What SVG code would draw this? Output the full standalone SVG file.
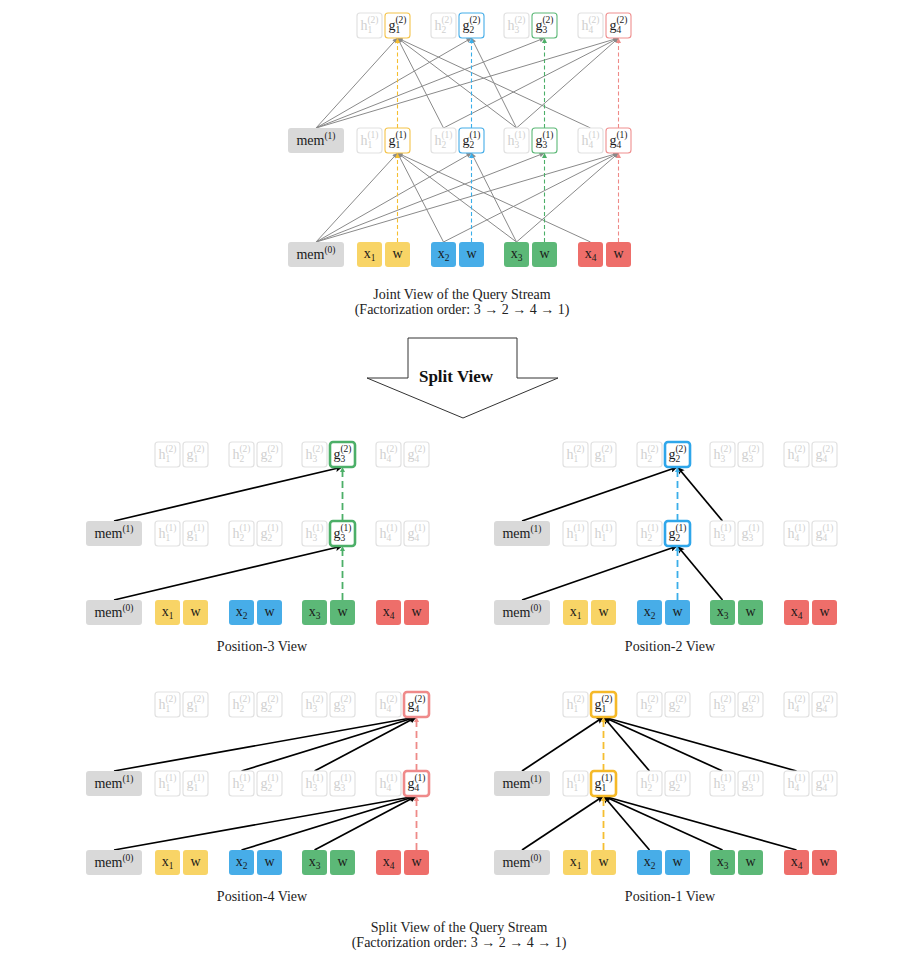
<svg xmlns="http://www.w3.org/2000/svg" width="900" height="960" viewBox="0 0 900 960">
<defs>
<style>
.t{font-family:"Liberation Serif","DejaVu Serif",serif;font-size:14px;text-anchor:middle;fill:#1a1a1a}
.s{font-size:9.5px}
.cap{font-family:"Liberation Serif","DejaVu Serif",serif;font-size:14px;text-anchor:middle;fill:#222}
.f{fill:#fff;stroke:#e1e1e1;stroke-width:1.2}
.ft{fill:#d0d0d0}
rect{rx:3px;ry:3px}
.m{fill:#d9d9d9}
.cy{fill:#f8d466}.cb{fill:#47ade8}.cg{fill:#5cb877}.cr{fill:#ee6e6a}
.hy{fill:#fff;stroke:#f4c34a;stroke-width:1.1}
.hb{fill:#fff;stroke:#45ade8;stroke-width:1.1}
.hg{fill:#fff;stroke:#5cb877;stroke-width:1.1}
.hr{fill:#fff;stroke:#ef8f8f;stroke-width:1.1}
.Hy{fill:#fff;stroke:#f5b928;stroke-width:2.6}
.Hb{fill:#fff;stroke:#2ea6ea;stroke-width:2.6}
.Hg{fill:#fff;stroke:#4caf68;stroke-width:2.6}
.Hr{fill:#fff;stroke:#ef8a8a;stroke-width:2.6}
.e{fill:none;stroke:#8a8a8a;stroke-width:1;marker-end:url(#ag)}
.k{fill:none;stroke:#000;stroke-width:1.7;marker-end:url(#ak)}
.dy,.db,.dg,.dr{fill:none;stroke-width:1.1;stroke-dasharray:4 2.5}
.dy{stroke:#f5be30;marker-end:url(#my)}
.db{stroke:#3aaee9;marker-end:url(#mb)}
.dg{stroke:#4caf68;marker-end:url(#mg)}
.dr{stroke:#ee8a88;marker-end:url(#mr)}
.pd{stroke-width:1.8;stroke-dasharray:7 4}
</style>
<marker id="ag" viewBox="0 0 10 10" refX="10" refY="5" markerWidth="7" markerHeight="5" markerUnits="userSpaceOnUse" orient="auto"><path d="M0,0L10,5L0,10z" fill="#8a8a8a"/></marker>
<marker id="ak" viewBox="0 0 10 10" refX="10" refY="5" markerWidth="9" markerHeight="7" markerUnits="userSpaceOnUse" orient="auto"><path d="M0,0L10,5L0,10L2,5z" fill="#000"/></marker>
<marker id="my" viewBox="0 0 10 10" refX="10" refY="5" markerWidth="7" markerHeight="5" markerUnits="userSpaceOnUse" orient="auto"><path d="M0,0L10,5L0,10z" fill="#f5be30"/></marker>
<marker id="mb" viewBox="0 0 10 10" refX="10" refY="5" markerWidth="7" markerHeight="5" markerUnits="userSpaceOnUse" orient="auto"><path d="M0,0L10,5L0,10z" fill="#3aaee9"/></marker>
<marker id="mg" viewBox="0 0 10 10" refX="10" refY="5" markerWidth="7" markerHeight="5" markerUnits="userSpaceOnUse" orient="auto"><path d="M0,0L10,5L0,10z" fill="#4caf68"/></marker>
<marker id="mr" viewBox="0 0 10 10" refX="10" refY="5" markerWidth="7" markerHeight="5" markerUnits="userSpaceOnUse" orient="auto"><path d="M0,0L10,5L0,10z" fill="#ee8a88"/></marker>
</defs>
<rect x="0" y="0" width="900" height="960" fill="#fff" style="rx:0"/>

<!-- ===== JOINT VIEW ===== -->
<g id="joint-connectors">
<line class="e" x1="316" y1="242" x2="397.5" y2="153"/>
<line class="e" x1="316" y1="242" x2="471.5" y2="153"/>
<line class="e" x1="316" y1="242" x2="544.5" y2="153"/>
<line class="e" x1="316" y1="242" x2="618.5" y2="153"/>
<line class="e" x1="443.5" y1="242" x2="397.5" y2="153"/>
<line class="e" x1="443.5" y1="242" x2="618.5" y2="153"/>
<line class="e" x1="516.5" y1="242" x2="397.5" y2="153"/>
<line class="e" x1="516.5" y1="242" x2="471.5" y2="153"/>
<line class="e" x1="516.5" y1="242" x2="618.5" y2="153"/>
<line class="e" x1="590.5" y1="242" x2="397.5" y2="153"/>
<line class="e" x1="316" y1="128" x2="397.5" y2="38"/>
<line class="e" x1="316" y1="128" x2="471.5" y2="38"/>
<line class="e" x1="316" y1="128" x2="544.5" y2="38"/>
<line class="e" x1="316" y1="128" x2="618.5" y2="38"/>
<line class="e" x1="443.5" y1="128" x2="397.5" y2="38"/>
<line class="e" x1="443.5" y1="128" x2="618.5" y2="38"/>
<line class="e" x1="516.5" y1="128" x2="397.5" y2="38"/>
<line class="e" x1="516.5" y1="128" x2="471.5" y2="38"/>
<line class="e" x1="516.5" y1="128" x2="618.5" y2="38"/>
<line class="e" x1="590.5" y1="128" x2="397.5" y2="38"/>
<line class="dy" x1="397.5" y1="242" x2="397.5" y2="153"/>
<line class="dy" x1="397.5" y1="128" x2="397.5" y2="38"/>
<line class="db" x1="471.5" y1="242" x2="471.5" y2="153"/>
<line class="db" x1="471.5" y1="128" x2="471.5" y2="38"/>
<line class="dg" x1="544.5" y1="242" x2="544.5" y2="153"/>
<line class="dg" x1="544.5" y1="128" x2="544.5" y2="38"/>
<line class="dr" x1="618.5" y1="242" x2="618.5" y2="153"/>
<line class="dr" x1="618.5" y1="128" x2="618.5" y2="38"/>
</g>
<g id="j-h1-2"><rect class="f" x="357" y="13" width="25" height="25"/><text class="t ft" x="369.5" y="29.5">h<tspan class="s" dy="3">1</tspan><tspan class="s" dx="-4.8" dy="-10">(2)</tspan></text></g>
<g id="j-g1-2"><rect class="hy" x="385" y="13" width="25" height="25"/><text class="t" x="397.5" y="29.5">g<tspan class="s" dy="3">1</tspan><tspan class="s" dx="-4.8" dy="-10">(2)</tspan></text></g>
<g id="j-h2-2"><rect class="f" x="431" y="13" width="25" height="25"/><text class="t ft" x="443.5" y="29.5">h<tspan class="s" dy="3">2</tspan><tspan class="s" dx="-4.8" dy="-10">(2)</tspan></text></g>
<g id="j-g2-2"><rect class="hb" x="459" y="13" width="25" height="25"/><text class="t" x="471.5" y="29.5">g<tspan class="s" dy="3">2</tspan><tspan class="s" dx="-4.8" dy="-10">(2)</tspan></text></g>
<g id="j-h3-2"><rect class="f" x="504" y="13" width="25" height="25"/><text class="t ft" x="516.5" y="29.5">h<tspan class="s" dy="3">3</tspan><tspan class="s" dx="-4.8" dy="-10">(2)</tspan></text></g>
<g id="j-g3-2"><rect class="hg" x="532" y="13" width="25" height="25"/><text class="t" x="544.5" y="29.5">g<tspan class="s" dy="3">3</tspan><tspan class="s" dx="-4.8" dy="-10">(2)</tspan></text></g>
<g id="j-h4-2"><rect class="f" x="578" y="13" width="25" height="25"/><text class="t ft" x="590.5" y="29.5">h<tspan class="s" dy="3">4</tspan><tspan class="s" dx="-4.8" dy="-10">(2)</tspan></text></g>
<g id="j-g4-2"><rect class="hr" x="606" y="13" width="25" height="25"/><text class="t" x="618.5" y="29.5">g<tspan class="s" dy="3">4</tspan><tspan class="s" dx="-4.8" dy="-10">(2)</tspan></text></g>

<g id="j-mem1"><rect class="m" x="288" y="128" width="56" height="25"/><text class="t" x="316" y="145">mem<tspan class="s" dy="-6">(1)</tspan></text></g>
<g id="j-h1-1"><rect class="f" x="357" y="128" width="25" height="25"/><text class="t ft" x="369.5" y="144.5">h<tspan class="s" dy="3">1</tspan><tspan class="s" dx="-4.8" dy="-10">(1)</tspan></text></g>
<g id="j-g1-1"><rect class="hy" x="385" y="128" width="25" height="25"/><text class="t" x="397.5" y="144.5">g<tspan class="s" dy="3">1</tspan><tspan class="s" dx="-4.8" dy="-10">(1)</tspan></text></g>
<g id="j-h2-1"><rect class="f" x="431" y="128" width="25" height="25"/><text class="t ft" x="443.5" y="144.5">h<tspan class="s" dy="3">2</tspan><tspan class="s" dx="-4.8" dy="-10">(1)</tspan></text></g>
<g id="j-g2-1"><rect class="hb" x="459" y="128" width="25" height="25"/><text class="t" x="471.5" y="144.5">g<tspan class="s" dy="3">2</tspan><tspan class="s" dx="-4.8" dy="-10">(1)</tspan></text></g>
<g id="j-h3-1"><rect class="f" x="504" y="128" width="25" height="25"/><text class="t ft" x="516.5" y="144.5">h<tspan class="s" dy="3">3</tspan><tspan class="s" dx="-4.8" dy="-10">(1)</tspan></text></g>
<g id="j-g3-1"><rect class="hg" x="532" y="128" width="25" height="25"/><text class="t" x="544.5" y="144.5">g<tspan class="s" dy="3">3</tspan><tspan class="s" dx="-4.8" dy="-10">(1)</tspan></text></g>
<g id="j-h4-1"><rect class="f" x="578" y="128" width="25" height="25"/><text class="t ft" x="590.5" y="144.5">h<tspan class="s" dy="3">4</tspan><tspan class="s" dx="-4.8" dy="-10">(1)</tspan></text></g>
<g id="j-g4-1"><rect class="hr" x="606" y="128" width="25" height="25"/><text class="t" x="618.5" y="144.5">g<tspan class="s" dy="3">4</tspan><tspan class="s" dx="-4.8" dy="-10">(1)</tspan></text></g>

<g id="j-mem0"><rect class="m" x="288" y="242" width="56" height="25"/><text class="t" x="316" y="259">mem<tspan class="s" dy="-6">(0)</tspan></text></g>
<g id="j-x1"><rect class="cy" x="357" y="242" width="25" height="25"/><text class="t" x="369.5" y="258">x<tspan class="s" dy="3">1</tspan></text></g>
<g id="j-w1"><rect class="cy" x="385" y="242" width="25" height="25"/><text class="t" x="397.5" y="258">w</text></g>
<g id="j-x2"><rect class="cb" x="431" y="242" width="25" height="25"/><text class="t" x="443.5" y="258">x<tspan class="s" dy="3">2</tspan></text></g>
<g id="j-w2"><rect class="cb" x="459" y="242" width="25" height="25"/><text class="t" x="471.5" y="258">w</text></g>
<g id="j-x3"><rect class="cg" x="504" y="242" width="25" height="25"/><text class="t" x="516.5" y="258">x<tspan class="s" dy="3">3</tspan></text></g>
<g id="j-w3"><rect class="cg" x="532" y="242" width="25" height="25"/><text class="t" x="544.5" y="258">w</text></g>
<g id="j-x4"><rect class="cr" x="578" y="242" width="25" height="25"/><text class="t" x="590.5" y="258">x<tspan class="s" dy="3">4</tspan></text></g>
<g id="j-w4"><rect class="cr" x="606" y="242" width="25" height="25"/><text class="t" x="618.5" y="258">w</text></g>

<text class="cap" x="462" y="299">Joint View of the Query Stream</text>
<text class="cap" x="462" y="314">(Factorization order: 3 <tspan font-weight="bold">→</tspan> 2 <tspan font-weight="bold">→</tspan> 4 <tspan font-weight="bold">→</tspan> 1)</text>

<g id="split-arrow">
<polygon points="408,338 517,338 517,378 558,378 463,418 367,378 408,378" fill="#fff" stroke="#333" stroke-width="1"/>
<text x="456" y="382" font-family="Liberation Serif, DejaVu Serif, serif" font-size="17" font-weight="bold" text-anchor="middle" fill="#111">Split View</text>
</g>

<!-- ===== PANEL: Position-3 ===== -->
<g id="p3-connectors">
<line class="k" x1="114" y1="521" x2="342.5" y2="467"/>
<line class="k" x1="114" y1="600" x2="342.5" y2="546"/>
<line class="dg pd" x1="342.5" y1="600" x2="342.5" y2="546"/>
<line class="dg pd" x1="342.5" y1="521" x2="342.5" y2="467"/>
</g>
<g id="p3-h1-2"><rect class="f" x="155" y="442" width="25" height="25"/><text class="t ft" x="167.5" y="458.5">h<tspan class="s" dy="3">1</tspan><tspan class="s" dx="-4.8" dy="-10">(2)</tspan></text></g>
<g id="p3-g1-2"><rect class="f" x="183" y="442" width="25" height="25"/><text class="t ft" x="195.5" y="458.5">g<tspan class="s" dy="3">1</tspan><tspan class="s" dx="-4.8" dy="-10">(2)</tspan></text></g>
<g id="p3-h2-2"><rect class="f" x="229" y="442" width="25" height="25"/><text class="t ft" x="241.5" y="458.5">h<tspan class="s" dy="3">2</tspan><tspan class="s" dx="-4.8" dy="-10">(2)</tspan></text></g>
<g id="p3-g2-2"><rect class="f" x="257" y="442" width="25" height="25"/><text class="t ft" x="269.5" y="458.5">g<tspan class="s" dy="3">2</tspan><tspan class="s" dx="-4.8" dy="-10">(2)</tspan></text></g>
<g id="p3-h3-2"><rect class="f" x="302" y="442" width="25" height="25"/><text class="t ft" x="314.5" y="458.5">h<tspan class="s" dy="3">3</tspan><tspan class="s" dx="-4.8" dy="-10">(2)</tspan></text></g>
<g id="p3-g3-2"><rect class="Hg" x="330" y="442" width="25" height="25"/><text class="t" x="342.5" y="458.5">g<tspan class="s" dy="3">3</tspan><tspan class="s" dx="-4.8" dy="-10">(2)</tspan></text></g>
<g id="p3-h4-2"><rect class="f" x="376" y="442" width="25" height="25"/><text class="t ft" x="388.5" y="458.5">h<tspan class="s" dy="3">4</tspan><tspan class="s" dx="-4.8" dy="-10">(2)</tspan></text></g>
<g id="p3-g4-2"><rect class="f" x="404" y="442" width="25" height="25"/><text class="t ft" x="416.5" y="458.5">g<tspan class="s" dy="3">4</tspan><tspan class="s" dx="-4.8" dy="-10">(2)</tspan></text></g>
<g id="p3-mem1"><rect class="m" x="86" y="521" width="56" height="25"/><text class="t" x="114" y="538">mem<tspan class="s" dy="-6">(1)</tspan></text></g>
<g id="p3-h1-1"><rect class="f" x="155" y="521" width="25" height="25"/><text class="t ft" x="167.5" y="537.5">h<tspan class="s" dy="3">1</tspan><tspan class="s" dx="-4.8" dy="-10">(1)</tspan></text></g>
<g id="p3-g1-1"><rect class="f" x="183" y="521" width="25" height="25"/><text class="t ft" x="195.5" y="537.5">g<tspan class="s" dy="3">1</tspan><tspan class="s" dx="-4.8" dy="-10">(1)</tspan></text></g>
<g id="p3-h2-1"><rect class="f" x="229" y="521" width="25" height="25"/><text class="t ft" x="241.5" y="537.5">h<tspan class="s" dy="3">2</tspan><tspan class="s" dx="-4.8" dy="-10">(1)</tspan></text></g>
<g id="p3-g2-1"><rect class="f" x="257" y="521" width="25" height="25"/><text class="t ft" x="269.5" y="537.5">g<tspan class="s" dy="3">2</tspan><tspan class="s" dx="-4.8" dy="-10">(1)</tspan></text></g>
<g id="p3-h3-1"><rect class="f" x="302" y="521" width="25" height="25"/><text class="t ft" x="314.5" y="537.5">h<tspan class="s" dy="3">3</tspan><tspan class="s" dx="-4.8" dy="-10">(1)</tspan></text></g>
<g id="p3-g3-1"><rect class="Hg" x="330" y="521" width="25" height="25"/><text class="t" x="342.5" y="537.5">g<tspan class="s" dy="3">3</tspan><tspan class="s" dx="-4.8" dy="-10">(1)</tspan></text></g>
<g id="p3-h4-1"><rect class="f" x="376" y="521" width="25" height="25"/><text class="t ft" x="388.5" y="537.5">h<tspan class="s" dy="3">4</tspan><tspan class="s" dx="-4.8" dy="-10">(1)</tspan></text></g>
<g id="p3-g4-1"><rect class="f" x="404" y="521" width="25" height="25"/><text class="t ft" x="416.5" y="537.5">g<tspan class="s" dy="3">4</tspan><tspan class="s" dx="-4.8" dy="-10">(1)</tspan></text></g>
<g id="p3-mem0"><rect class="m" x="86" y="600" width="56" height="25"/><text class="t" x="114" y="617">mem<tspan class="s" dy="-6">(0)</tspan></text></g>
<g id="p3-x1"><rect class="cy" x="155" y="600" width="25" height="25"/><text class="t" x="167.5" y="616">x<tspan class="s" dy="3">1</tspan></text></g>
<g id="p3-w1"><rect class="cy" x="183" y="600" width="25" height="25"/><text class="t" x="195.5" y="616">w</text></g>
<g id="p3-x2"><rect class="cb" x="229" y="600" width="25" height="25"/><text class="t" x="241.5" y="616">x<tspan class="s" dy="3">2</tspan></text></g>
<g id="p3-w2"><rect class="cb" x="257" y="600" width="25" height="25"/><text class="t" x="269.5" y="616">w</text></g>
<g id="p3-x3"><rect class="cg" x="302" y="600" width="25" height="25"/><text class="t" x="314.5" y="616">x<tspan class="s" dy="3">3</tspan></text></g>
<g id="p3-w3"><rect class="cg" x="330" y="600" width="25" height="25"/><text class="t" x="342.5" y="616">w</text></g>
<g id="p3-x4"><rect class="cr" x="376" y="600" width="25" height="25"/><text class="t" x="388.5" y="616">x<tspan class="s" dy="3">4</tspan></text></g>
<g id="p3-w4"><rect class="cr" x="404" y="600" width="25" height="25"/><text class="t" x="416.5" y="616">w</text></g>
<text class="cap" x="262" y="651">Position-3 View</text>

<!-- ===== PANEL: Position-2 ===== -->
<g id="p2-connectors">
<line class="k" x1="522" y1="521" x2="677.5" y2="467"/>
<line class="k" x1="722.5" y1="521" x2="677.5" y2="467"/>
<line class="k" x1="522" y1="600" x2="677.5" y2="546"/>
<line class="k" x1="722.5" y1="600" x2="677.5" y2="546"/>
<line class="db pd" x1="677.5" y1="600" x2="677.5" y2="546"/>
<line class="db pd" x1="677.5" y1="521" x2="677.5" y2="467"/>
</g>
<g id="p2-h1-2"><rect class="f" x="563" y="442" width="25" height="25"/><text class="t ft" x="575.5" y="458.5">h<tspan class="s" dy="3">1</tspan><tspan class="s" dx="-4.8" dy="-10">(2)</tspan></text></g>
<g id="p2-g1-2"><rect class="f" x="591" y="442" width="25" height="25"/><text class="t ft" x="603.5" y="458.5">g<tspan class="s" dy="3">1</tspan><tspan class="s" dx="-4.8" dy="-10">(2)</tspan></text></g>
<g id="p2-h2-2"><rect class="f" x="637" y="442" width="25" height="25"/><text class="t ft" x="649.5" y="458.5">h<tspan class="s" dy="3">2</tspan><tspan class="s" dx="-4.8" dy="-10">(2)</tspan></text></g>
<g id="p2-g2-2"><rect class="Hb" x="665" y="442" width="25" height="25"/><text class="t" x="677.5" y="458.5">g<tspan class="s" dy="3">2</tspan><tspan class="s" dx="-4.8" dy="-10">(2)</tspan></text></g>
<g id="p2-h3-2"><rect class="f" x="710" y="442" width="25" height="25"/><text class="t ft" x="722.5" y="458.5">h<tspan class="s" dy="3">3</tspan><tspan class="s" dx="-4.8" dy="-10">(2)</tspan></text></g>
<g id="p2-g3-2"><rect class="f" x="738" y="442" width="25" height="25"/><text class="t ft" x="750.5" y="458.5">g<tspan class="s" dy="3">3</tspan><tspan class="s" dx="-4.8" dy="-10">(2)</tspan></text></g>
<g id="p2-h4-2"><rect class="f" x="784" y="442" width="25" height="25"/><text class="t ft" x="796.5" y="458.5">h<tspan class="s" dy="3">4</tspan><tspan class="s" dx="-4.8" dy="-10">(2)</tspan></text></g>
<g id="p2-g4-2"><rect class="f" x="812" y="442" width="25" height="25"/><text class="t ft" x="824.5" y="458.5">g<tspan class="s" dy="3">4</tspan><tspan class="s" dx="-4.8" dy="-10">(2)</tspan></text></g>
<g id="p2-mem1"><rect class="m" x="494" y="521" width="56" height="25"/><text class="t" x="522" y="538">mem<tspan class="s" dy="-6">(1)</tspan></text></g>
<g id="p2-h1-1"><rect class="f" x="563" y="521" width="25" height="25"/><text class="t ft" x="575.5" y="537.5">h<tspan class="s" dy="3">1</tspan><tspan class="s" dx="-4.8" dy="-10">(1)</tspan></text></g>
<g id="p2-g1-1"><rect class="f" x="591" y="521" width="25" height="25"/><text class="t ft" x="603.5" y="537.5">h<tspan class="s" dy="3">1</tspan><tspan class="s" dx="-4.8" dy="-10">(1)</tspan></text></g>
<g id="p2-h2-1"><rect class="f" x="637" y="521" width="25" height="25"/><text class="t ft" x="649.5" y="537.5">h<tspan class="s" dy="3">2</tspan><tspan class="s" dx="-4.8" dy="-10">(1)</tspan></text></g>
<g id="p2-g2-1"><rect class="Hb" x="665" y="521" width="25" height="25"/><text class="t" x="677.5" y="537.5">g<tspan class="s" dy="3">2</tspan><tspan class="s" dx="-4.8" dy="-10">(1)</tspan></text></g>
<g id="p2-h3-1"><rect class="f" x="710" y="521" width="25" height="25"/><text class="t ft" x="722.5" y="537.5">h<tspan class="s" dy="3">3</tspan><tspan class="s" dx="-4.8" dy="-10">(1)</tspan></text></g>
<g id="p2-g3-1"><rect class="f" x="738" y="521" width="25" height="25"/><text class="t ft" x="750.5" y="537.5">g<tspan class="s" dy="3">3</tspan><tspan class="s" dx="-4.8" dy="-10">(1)</tspan></text></g>
<g id="p2-h4-1"><rect class="f" x="784" y="521" width="25" height="25"/><text class="t ft" x="796.5" y="537.5">h<tspan class="s" dy="3">4</tspan><tspan class="s" dx="-4.8" dy="-10">(1)</tspan></text></g>
<g id="p2-g4-1"><rect class="f" x="812" y="521" width="25" height="25"/><text class="t ft" x="824.5" y="537.5">g<tspan class="s" dy="3">4</tspan><tspan class="s" dx="-4.8" dy="-10">(1)</tspan></text></g>
<g id="p2-mem0"><rect class="m" x="494" y="600" width="56" height="25"/><text class="t" x="522" y="617">mem<tspan class="s" dy="-6">(0)</tspan></text></g>
<g id="p2-x1"><rect class="cy" x="563" y="600" width="25" height="25"/><text class="t" x="575.5" y="616">x<tspan class="s" dy="3">1</tspan></text></g>
<g id="p2-w1"><rect class="cy" x="591" y="600" width="25" height="25"/><text class="t" x="603.5" y="616">w</text></g>
<g id="p2-x2"><rect class="cb" x="637" y="600" width="25" height="25"/><text class="t" x="649.5" y="616">x<tspan class="s" dy="3">2</tspan></text></g>
<g id="p2-w2"><rect class="cb" x="665" y="600" width="25" height="25"/><text class="t" x="677.5" y="616">w</text></g>
<g id="p2-x3"><rect class="cg" x="710" y="600" width="25" height="25"/><text class="t" x="722.5" y="616">x<tspan class="s" dy="3">3</tspan></text></g>
<g id="p2-w3"><rect class="cg" x="738" y="600" width="25" height="25"/><text class="t" x="750.5" y="616">w</text></g>
<g id="p2-x4"><rect class="cr" x="784" y="600" width="25" height="25"/><text class="t" x="796.5" y="616">x<tspan class="s" dy="3">4</tspan></text></g>
<g id="p2-w4"><rect class="cr" x="812" y="600" width="25" height="25"/><text class="t" x="824.5" y="616">w</text></g>
<text class="cap" x="670" y="651">Position-2 View</text>

<!-- ===== PANEL: Position-4 ===== -->
<g id="p4-connectors">
<line class="k" x1="114" y1="771" x2="416.5" y2="717"/>
<line class="k" x1="241.5" y1="771" x2="416.5" y2="717"/>
<line class="k" x1="314.5" y1="771" x2="416.5" y2="717"/>
<line class="k" x1="114" y1="850" x2="416.5" y2="796"/>
<line class="k" x1="241.5" y1="850" x2="416.5" y2="796"/>
<line class="k" x1="314.5" y1="850" x2="416.5" y2="796"/>
<line class="dr pd" x1="416.5" y1="850" x2="416.5" y2="796"/>
<line class="dr pd" x1="416.5" y1="771" x2="416.5" y2="717"/>
</g>
<g id="p4-h1-2"><rect class="f" x="155" y="692" width="25" height="25"/><text class="t ft" x="167.5" y="708.5">h<tspan class="s" dy="3">1</tspan><tspan class="s" dx="-4.8" dy="-10">(2)</tspan></text></g>
<g id="p4-g1-2"><rect class="f" x="183" y="692" width="25" height="25"/><text class="t ft" x="195.5" y="708.5">g<tspan class="s" dy="3">1</tspan><tspan class="s" dx="-4.8" dy="-10">(2)</tspan></text></g>
<g id="p4-h2-2"><rect class="f" x="229" y="692" width="25" height="25"/><text class="t ft" x="241.5" y="708.5">h<tspan class="s" dy="3">2</tspan><tspan class="s" dx="-4.8" dy="-10">(2)</tspan></text></g>
<g id="p4-g2-2"><rect class="f" x="257" y="692" width="25" height="25"/><text class="t ft" x="269.5" y="708.5">g<tspan class="s" dy="3">2</tspan><tspan class="s" dx="-4.8" dy="-10">(2)</tspan></text></g>
<g id="p4-h3-2"><rect class="f" x="302" y="692" width="25" height="25"/><text class="t ft" x="314.5" y="708.5">h<tspan class="s" dy="3">3</tspan><tspan class="s" dx="-4.8" dy="-10">(2)</tspan></text></g>
<g id="p4-g3-2"><rect class="f" x="330" y="692" width="25" height="25"/><text class="t ft" x="342.5" y="708.5">g<tspan class="s" dy="3">3</tspan><tspan class="s" dx="-4.8" dy="-10">(2)</tspan></text></g>
<g id="p4-h4-2"><rect class="f" x="376" y="692" width="25" height="25"/><text class="t ft" x="388.5" y="708.5">h<tspan class="s" dy="3">4</tspan><tspan class="s" dx="-4.8" dy="-10">(2)</tspan></text></g>
<g id="p4-g4-2"><rect class="Hr" x="404" y="692" width="25" height="25"/><text class="t" x="416.5" y="708.5">g<tspan class="s" dy="3">4</tspan><tspan class="s" dx="-4.8" dy="-10">(2)</tspan></text></g>
<g id="p4-mem1"><rect class="m" x="86" y="771" width="56" height="25"/><text class="t" x="114" y="788">mem<tspan class="s" dy="-6">(1)</tspan></text></g>
<g id="p4-h1-1"><rect class="f" x="155" y="771" width="25" height="25"/><text class="t ft" x="167.5" y="787.5">h<tspan class="s" dy="3">1</tspan><tspan class="s" dx="-4.8" dy="-10">(1)</tspan></text></g>
<g id="p4-g1-1"><rect class="f" x="183" y="771" width="25" height="25"/><text class="t ft" x="195.5" y="787.5">g<tspan class="s" dy="3">1</tspan><tspan class="s" dx="-4.8" dy="-10">(1)</tspan></text></g>
<g id="p4-h2-1"><rect class="f" x="229" y="771" width="25" height="25"/><text class="t ft" x="241.5" y="787.5">h<tspan class="s" dy="3">2</tspan><tspan class="s" dx="-4.8" dy="-10">(1)</tspan></text></g>
<g id="p4-g2-1"><rect class="f" x="257" y="771" width="25" height="25"/><text class="t ft" x="269.5" y="787.5">g<tspan class="s" dy="3">2</tspan><tspan class="s" dx="-4.8" dy="-10">(1)</tspan></text></g>
<g id="p4-h3-1"><rect class="f" x="302" y="771" width="25" height="25"/><text class="t ft" x="314.5" y="787.5">h<tspan class="s" dy="3">3</tspan><tspan class="s" dx="-4.8" dy="-10">(1)</tspan></text></g>
<g id="p4-g3-1"><rect class="f" x="330" y="771" width="25" height="25"/><text class="t ft" x="342.5" y="787.5">g<tspan class="s" dy="3">3</tspan><tspan class="s" dx="-4.8" dy="-10">(1)</tspan></text></g>
<g id="p4-h4-1"><rect class="f" x="376" y="771" width="25" height="25"/><text class="t ft" x="388.5" y="787.5">h<tspan class="s" dy="3">4</tspan><tspan class="s" dx="-4.8" dy="-10">(1)</tspan></text></g>
<g id="p4-g4-1"><rect class="Hr" x="404" y="771" width="25" height="25"/><text class="t" x="416.5" y="787.5">g<tspan class="s" dy="3">4</tspan><tspan class="s" dx="-4.8" dy="-10">(1)</tspan></text></g>
<g id="p4-mem0"><rect class="m" x="86" y="850" width="56" height="25"/><text class="t" x="114" y="867">mem<tspan class="s" dy="-6">(0)</tspan></text></g>
<g id="p4-x1"><rect class="cy" x="155" y="850" width="25" height="25"/><text class="t" x="167.5" y="866">x<tspan class="s" dy="3">1</tspan></text></g>
<g id="p4-w1"><rect class="cy" x="183" y="850" width="25" height="25"/><text class="t" x="195.5" y="866">w</text></g>
<g id="p4-x2"><rect class="cb" x="229" y="850" width="25" height="25"/><text class="t" x="241.5" y="866">x<tspan class="s" dy="3">2</tspan></text></g>
<g id="p4-w2"><rect class="cb" x="257" y="850" width="25" height="25"/><text class="t" x="269.5" y="866">w</text></g>
<g id="p4-x3"><rect class="cg" x="302" y="850" width="25" height="25"/><text class="t" x="314.5" y="866">x<tspan class="s" dy="3">3</tspan></text></g>
<g id="p4-w3"><rect class="cg" x="330" y="850" width="25" height="25"/><text class="t" x="342.5" y="866">w</text></g>
<g id="p4-x4"><rect class="cr" x="376" y="850" width="25" height="25"/><text class="t" x="388.5" y="866">x<tspan class="s" dy="3">4</tspan></text></g>
<g id="p4-w4"><rect class="cr" x="404" y="850" width="25" height="25"/><text class="t" x="416.5" y="866">w</text></g>
<text class="cap" x="262" y="901">Position-4 View</text>

<!-- ===== PANEL: Position-1 ===== -->
<g id="p1-connectors">
<line class="k" x1="522" y1="771" x2="603.5" y2="717"/>
<line class="k" x1="649.5" y1="771" x2="603.5" y2="717"/>
<line class="k" x1="722.5" y1="771" x2="603.5" y2="717"/>
<line class="k" x1="796.5" y1="771" x2="603.5" y2="717"/>
<line class="k" x1="522" y1="850" x2="603.5" y2="796"/>
<line class="k" x1="649.5" y1="850" x2="603.5" y2="796"/>
<line class="k" x1="722.5" y1="850" x2="603.5" y2="796"/>
<line class="k" x1="796.5" y1="850" x2="603.5" y2="796"/>
<line class="dy pd" x1="603.5" y1="850" x2="603.5" y2="796"/>
<line class="dy pd" x1="603.5" y1="771" x2="603.5" y2="717"/>
</g>
<g id="p1-h1-2"><rect class="f" x="563" y="692" width="25" height="25"/><text class="t ft" x="575.5" y="708.5">h<tspan class="s" dy="3">1</tspan><tspan class="s" dx="-4.8" dy="-10">(2)</tspan></text></g>
<g id="p1-g1-2"><rect class="Hy" x="591" y="692" width="25" height="25"/><text class="t" x="603.5" y="708.5">g<tspan class="s" dy="3">1</tspan><tspan class="s" dx="-4.8" dy="-10">(2)</tspan></text></g>
<g id="p1-h2-2"><rect class="f" x="637" y="692" width="25" height="25"/><text class="t ft" x="649.5" y="708.5">h<tspan class="s" dy="3">2</tspan><tspan class="s" dx="-4.8" dy="-10">(2)</tspan></text></g>
<g id="p1-g2-2"><rect class="f" x="665" y="692" width="25" height="25"/><text class="t ft" x="677.5" y="708.5">g<tspan class="s" dy="3">2</tspan><tspan class="s" dx="-4.8" dy="-10">(2)</tspan></text></g>
<g id="p1-h3-2"><rect class="f" x="710" y="692" width="25" height="25"/><text class="t ft" x="722.5" y="708.5">h<tspan class="s" dy="3">3</tspan><tspan class="s" dx="-4.8" dy="-10">(2)</tspan></text></g>
<g id="p1-g3-2"><rect class="f" x="738" y="692" width="25" height="25"/><text class="t ft" x="750.5" y="708.5">g<tspan class="s" dy="3">3</tspan><tspan class="s" dx="-4.8" dy="-10">(2)</tspan></text></g>
<g id="p1-h4-2"><rect class="f" x="784" y="692" width="25" height="25"/><text class="t ft" x="796.5" y="708.5">h<tspan class="s" dy="3">4</tspan><tspan class="s" dx="-4.8" dy="-10">(2)</tspan></text></g>
<g id="p1-g4-2"><rect class="f" x="812" y="692" width="25" height="25"/><text class="t ft" x="824.5" y="708.5">g<tspan class="s" dy="3">4</tspan><tspan class="s" dx="-4.8" dy="-10">(2)</tspan></text></g>
<g id="p1-mem1"><rect class="m" x="494" y="771" width="56" height="25"/><text class="t" x="522" y="788">mem<tspan class="s" dy="-6">(1)</tspan></text></g>
<g id="p1-h1-1"><rect class="f" x="563" y="771" width="25" height="25"/><text class="t ft" x="575.5" y="787.5">h<tspan class="s" dy="3">1</tspan><tspan class="s" dx="-4.8" dy="-10">(1)</tspan></text></g>
<g id="p1-g1-1"><rect class="Hy" x="591" y="771" width="25" height="25"/><text class="t" x="603.5" y="787.5">g<tspan class="s" dy="3">1</tspan><tspan class="s" dx="-4.8" dy="-10">(1)</tspan></text></g>
<g id="p1-h2-1"><rect class="f" x="637" y="771" width="25" height="25"/><text class="t ft" x="649.5" y="787.5">h<tspan class="s" dy="3">2</tspan><tspan class="s" dx="-4.8" dy="-10">(1)</tspan></text></g>
<g id="p1-g2-1"><rect class="f" x="665" y="771" width="25" height="25"/><text class="t ft" x="677.5" y="787.5">g<tspan class="s" dy="3">2</tspan><tspan class="s" dx="-4.8" dy="-10">(1)</tspan></text></g>
<g id="p1-h3-1"><rect class="f" x="710" y="771" width="25" height="25"/><text class="t ft" x="722.5" y="787.5">h<tspan class="s" dy="3">3</tspan><tspan class="s" dx="-4.8" dy="-10">(1)</tspan></text></g>
<g id="p1-g3-1"><rect class="f" x="738" y="771" width="25" height="25"/><text class="t ft" x="750.5" y="787.5">g<tspan class="s" dy="3">3</tspan><tspan class="s" dx="-4.8" dy="-10">(1)</tspan></text></g>
<g id="p1-h4-1"><rect class="f" x="784" y="771" width="25" height="25"/><text class="t ft" x="796.5" y="787.5">h<tspan class="s" dy="3">4</tspan><tspan class="s" dx="-4.8" dy="-10">(1)</tspan></text></g>
<g id="p1-g4-1"><rect class="f" x="812" y="771" width="25" height="25"/><text class="t ft" x="824.5" y="787.5">g<tspan class="s" dy="3">4</tspan><tspan class="s" dx="-4.8" dy="-10">(1)</tspan></text></g>
<g id="p1-mem0"><rect class="m" x="494" y="850" width="56" height="25"/><text class="t" x="522" y="867">mem<tspan class="s" dy="-6">(0)</tspan></text></g>
<g id="p1-x1"><rect class="cy" x="563" y="850" width="25" height="25"/><text class="t" x="575.5" y="866">x<tspan class="s" dy="3">1</tspan></text></g>
<g id="p1-w1"><rect class="cy" x="591" y="850" width="25" height="25"/><text class="t" x="603.5" y="866">w</text></g>
<g id="p1-x2"><rect class="cb" x="637" y="850" width="25" height="25"/><text class="t" x="649.5" y="866">x<tspan class="s" dy="3">2</tspan></text></g>
<g id="p1-w2"><rect class="cb" x="665" y="850" width="25" height="25"/><text class="t" x="677.5" y="866">w</text></g>
<g id="p1-x3"><rect class="cg" x="710" y="850" width="25" height="25"/><text class="t" x="722.5" y="866">x<tspan class="s" dy="3">3</tspan></text></g>
<g id="p1-w3"><rect class="cg" x="738" y="850" width="25" height="25"/><text class="t" x="750.5" y="866">w</text></g>
<g id="p1-x4"><rect class="cr" x="784" y="850" width="25" height="25"/><text class="t" x="796.5" y="866">x<tspan class="s" dy="3">4</tspan></text></g>
<g id="p1-w4"><rect class="cr" x="812" y="850" width="25" height="25"/><text class="t" x="824.5" y="866">w</text></g>
<text class="cap" x="670" y="901">Position-1 View</text>

<text class="cap" x="459" y="932">Split View of the Query Stream</text>
<text class="cap" x="459" y="947">(Factorization order: 3 <tspan font-weight="bold">→</tspan> 2 <tspan font-weight="bold">→</tspan> 4 <tspan font-weight="bold">→</tspan> 1)</text>
</svg>
